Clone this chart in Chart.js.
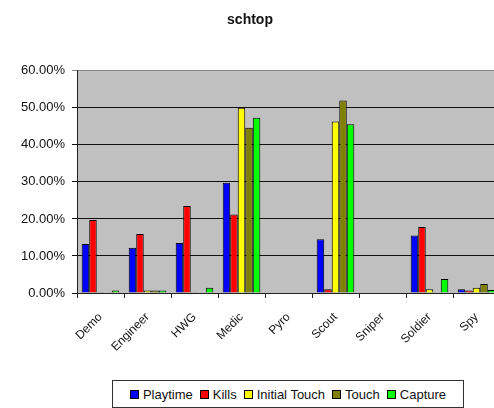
<!DOCTYPE html>
<html>
<head>
<meta charset="utf-8">
<script src="https://cdn.jsdelivr.net/npm/chart.js@4/dist/chart.umd.min.js"></script>
<style>
  html, body { margin: 0; padding: 0; background: #fff; overflow: hidden; }
  #wrap { position: relative; width: 516px; height: 408px; }
  #legend {
    position: absolute; left: 112px; top: 380px; width: 350px; height: 26px;
    border: 1px solid #333; background: #fff;
    display: flex; align-items: center; justify-content: center; gap: 7px;
    font: 13px "Liberation Sans", Arial, sans-serif; color: #111;
  }
  #legend span.sw {
    display: inline-block; width: 7px; height: 7px; border: 1px solid #000;
    margin-right: 4px; vertical-align: 0px;
  }
</style>
</head>
<body>
<div id="wrap">
  <canvas id="chart" width="516" height="408"></canvas>
  <div id="legend"></div>
</div>
<script>
// classes sur l'axe x
const classes = ['Demo', 'Engineer', 'HWG', 'Medic', 'Pyro', 'Scout', 'Sniper', 'Soldier', 'Spy'];

// pourcentages par classe
const playtime     = [13.2, 12.2, 13.5, 29.8, 0, 14.5, 0, 15.5, 1.0];
const kills        = [19.7, 15.9, 23.5, 21.2, 0, 1.0, 0, 17.8, 0.7];
const initialTouch = [0.2, 0.7, 0.2, 50.0, 0, 46.3, 0, 1.0, 1.4];
const touch        = [0, 0.7, 0, 44.6, 0, 52.0, 0, 0, 2.4];
const capture      = [0.7, 0.7, 1.4, 47.3, 0, 45.6, 0, 3.8, 0.8];

const seriesNames  = ['Playtime', 'Kills', 'Initial Touch', 'Touch', 'Capture'];
const seriesColors = ['#0000ff', '#ff0000', '#ffff00', '#808000', '#00ff00'];
const yTicks = [0, 10, 20, 30, 40, 50, 60];

const font = '"Liberation Sans", Arial, sans-serif';
const series = [playtime, kills, initialTouch, touch, capture];

// fond gris de la zone de tracé
const plotBg = {
  id: 'plotBg',
  beforeDraw(chart) {
    const a = chart.chartArea, ctx = chart.ctx;
    ctx.save();
    ctx.fillStyle = '#c0c0c0';
    ctx.fillRect(a.left, a.top, a.right - a.left, a.bottom - a.top);
    ctx.restore();
  }
};

new Chart(document.getElementById('chart').getContext('2d'), {
  type: 'bar',
  data: {
    labels: classes,
    datasets: series.map((d, i) => ({
      label: seriesNames[i],
      data: d,
      backgroundColor: seriesColors[i],
      borderColor: '#000',
      borderWidth: 1,
      borderSkipped: 'start',
      categoryPercentage: 0.8,
      barPercentage: 1.0
    }))
  },
  options: {
    responsive: false,
    animation: false,
    layout: { padding: { left: 0, right: 16, top: 0, bottom: 55 } },
    plugins: {
      legend: { display: false },
      tooltip: { enabled: false },
      title: {
        display: true,
        text: 'schtop',
        color: '#111',
        font: { family: font, size: 14, weight: 'bold' },
        padding: { top: 12, bottom: 42 }
      }
    },
    scales: {
      x: {
        afterFit(scale) { scale.height = 60; },
        grid: { display: true, drawOnChartArea: false, offset: true, tickLength: 5, color: '#222' },
        border: { display: true, color: '#222', width: 1 },
        ticks: {
          color: '#111',
          font: { family: font, size: 12 },
          minRotation: 45,
          maxRotation: 45,
          padding: 12
        }
      },
      y: {
        min: 0,
        max: 60,
        afterFit(scale) { scale.width = 77; },
        afterBuildTicks(scale) { scale.ticks = yTicks.map(v => ({ value: v })); },
        grid: {
          tickLength: 5,
          color: ctx => ctx.tick && ctx.tick.value === 60 ? '#888' : '#111',
          lineWidth: 1
        },
        border: { display: true, color: '#222', width: 1 },
        ticks: {
          color: '#111',
          padding: 7,
          font: { family: font, size: 13 },
          callback: v => v.toFixed(2) + '%'
        }
      }
    }
  },
  plugins: [plotBg]
});

// légende avec cadre
const legend = document.getElementById('legend');
seriesNames.forEach((name, i) => {
  const item = document.createElement('span');
  item.innerHTML = '<span class="sw" style="background:' + seriesColors[i] + '"></span>' + name;
  legend.appendChild(item);
});
</script>
</body>
</html>
